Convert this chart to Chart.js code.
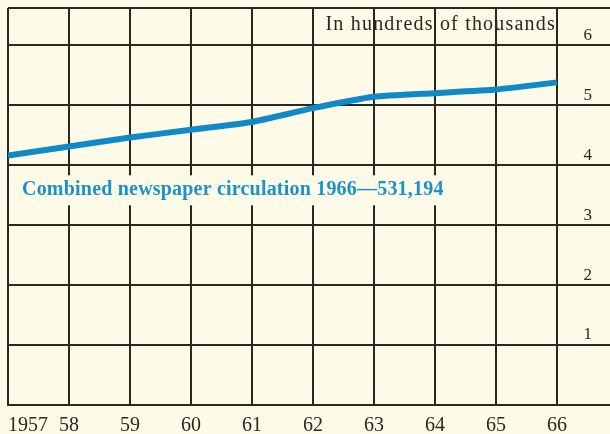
<!DOCTYPE html>
<html><head><meta charset="utf-8">
<script src="https://cdn.jsdelivr.net/npm/chart.js@4.4.1/dist/chart.umd.min.js"></script>
<style>html,body{margin:0;padding:0;background:#fdfbe8;}#wrap{width:610px;height:434px;}</style>
</head><body><div id="wrap"><canvas id="c" width="610" height="434"></canvas></div>
<script>
const years = [1957,1958,1959,1960,1961,1962,1963,1964,1965,1966];
const circulation = [4.16,4.31,4.46,4.59,4.72,4.95,5.14,5.20,5.26,5.38];
const xTickLabels = ['1957','58','59','60','61','62','63','64','65','66'];
const yTickValues = [0,1,2,3,4,5,6];
const yTickLabels = ['','1','2','3','4','5','6'];
const unitsNote = 'In hundreds of thousands';
const seriesNote = 'Combined newspaper circulation 1966\u2014531,194';

const X_MIN = 1957, X_MAX = 1966.87, Y_MIN = 0, Y_MAX = 6.62;
const BG = '#fdfbe8', INK = '#2a2822', BLUE = '#1189c6', TEXTBLUE = '#1b93c9';

const textPlugin = {
  id: 'notes',
  beforeDraw(chart) {
    const c = chart.ctx; c.save(); c.fillStyle = BG; c.fillRect(0,0,chart.width,chart.height); c.restore();
  },
  afterDraw(chart) {
    const c = chart.ctx, xs = chart.scales.x, ys = chart.scales.y;
    c.save();
    c.font = '20px "Liberation Serif"';
    c.letterSpacing = '1.2px';
    c.fillStyle = INK; c.textAlign = 'right'; c.textBaseline = 'alphabetic';
    c.fillText(unitsNote, xs.getPixelForValue(1966) - 1, ys.getPixelForValue(6.25));
    c.font = 'bold 20px "Liberation Serif"';
    c.letterSpacing = '0.2px';
    const tx = xs.getPixelForValue(1957.23), ty = ys.getPixelForValue(3.58);
    const w = c.measureText(seriesNote).width;
    c.fillStyle = BG;
    c.fillRect(tx - 6, ty - 15, w + 10, 30);
    c.fillStyle = TEXTBLUE; c.textAlign = 'left'; c.textBaseline = 'middle';
    c.fillText(seriesNote, tx, ty);
    c.restore();
  }
};

const zeroPad = (s) => { s.paddingLeft = 0; s.paddingRight = 0; s.paddingTop = 0; s.paddingBottom = 0; };

new Chart(document.getElementById('c'), {
  type: 'line',
  data: { datasets: [{
    data: years.map((y,i) => ({x: y, y: circulation[i]})),
    borderColor: BLUE, borderWidth: 6, pointRadius: 0, tension: 0.15, fill: false,
    borderCapStyle: 'butt'
  }]},
  options: {
    responsive: false, animation: false, devicePixelRatio: 1,
    layout: { padding: { left: 8, top: 8, right: 0, bottom: 0 } },
    plugins: { legend: { display: false }, tooltip: { enabled: false } },
    scales: {
      x: {
        type: 'linear', min: X_MIN, max: X_MAX,
        afterBuildTicks: (s) => { s.ticks = years.concat([X_MAX]).map(v => ({value: v})); },
        afterFit: (s) => { s.height = 29; zeroPad(s); },
        ticks: {
          align: 'inner', padding: 9, maxRotation: 0, autoSkip: false,
          color: INK, font: { family: 'Liberation Serif', size: 20 },
          callback: (v) => { const i = years.indexOf(v); return i >= 0 ? xTickLabels[i] : ''; }
        },
        grid: { drawTicks: false, lineWidth: 2,
          color: (ctx) => (ctx.tick && years.includes(ctx.tick.value)) ? INK : 'rgba(0,0,0,0)' },
        border: { display: true, color: INK, width: 2 }
      },
      y: {
        position: 'right', min: Y_MIN, max: Y_MAX,
        afterBuildTicks: (s) => { s.ticks = yTickValues.concat([Y_MAX]).map(v => ({value: v})); },
        afterFit: (s) => { s.width = 0; zeroPad(s); },
        ticks: {
          mirror: true, padding: -18, labelOffset: -10,
          color: INK, font: { family: 'Liberation Serif', size: 17 },
          callback: (v) => { const i = yTickValues.indexOf(v); return i >= 0 ? yTickLabels[i] : ''; }
        },
        grid: { drawTicks: false, lineWidth: 2, color: INK },
        border: { display: false }
      }
    }
  },
  plugins: [textPlugin]
});
</script></body></html>
